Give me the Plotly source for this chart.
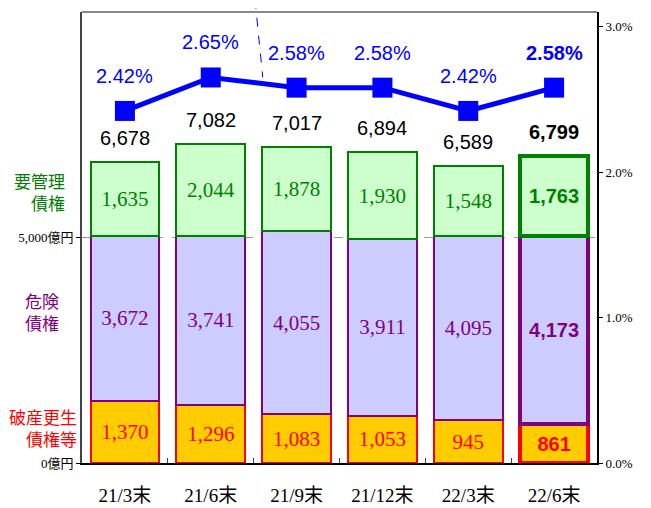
import plotly.graph_objects as go

# data
periods = ["21/3末", "21/6末", "21/9末", "21/12末", "22/3末", "22/6末"]
bankrupt = [1370, 1296, 1083, 1053, 945, 861]        # 破産更生債権等
doubtful = [3672, 3741, 4055, 3911, 4095, 4173]      # 危険債権
substandard = [1635, 2044, 1878, 1930, 1548, 1763]   # 要管理債権
totals = [6678, 7082, 7017, 6894, 6589, 6799]
ratio = [2.42, 2.65, 2.58, 2.58, 2.42, 2.58]

SERIF = "Liberation Serif, Noto Sans CJK JP"
SANS = "Liberation Sans, Arial, sans-serif"
CJK = "Noto Sans CJK JP"

last = len(periods) - 1


def fmt(v, i):
    s = f"{v:,}"
    return f"<b>{s}</b>" if i == last else s


def seg(values, fill, edge, name):
    return go.Bar(
        x=periods, y=values, name=name,
        marker=dict(color=fill,
                    line=dict(color=edge, width=[2] * last + [4])),
        text=[fmt(v, i) for i, v in enumerate(values)],
        textposition="inside", insidetextanchor="middle",
        constraintext="none", textangle=0,
        textfont=dict(color=edge, size=[21] * last + [20],
                      family=[SERIF] * last + [SANS]),
        width=0.8, hoverinfo="skip",
    )


fig = go.Figure()
fig.add_trace(seg(bankrupt, "#FFCC00", "#FF0000", "破産更生債権等"))
fig.add_trace(seg(doubtful, "#CCCCFF", "#800080", "危険債権"))
fig.add_trace(seg(substandard, "#CCFFCC", "#008000", "要管理債権"))

fig.add_trace(go.Scatter(
    x=periods, y=ratio, yaxis="y2", mode="lines+markers",
    line=dict(color="#0000FF", width=5),
    marker=dict(symbol="square", size=20, color="#0000FF"),
    hoverinfo="skip",
))

annotations = []
for i, p in enumerate(periods):
    annotations.append(dict(
        x=p, y=totals[i], xref="x", yref="y", yshift=24, yanchor="middle",
        text=fmt(totals[i], i), showarrow=False,
        font=dict(family=SANS, size=20, color="black"),
    ))
    pct = f"{ratio[i]:.2f}%"
    annotations.append(dict(
        x=p, y=ratio[i], xref="x", yref="y2", yshift=35, yanchor="middle",
        text=f"<b>{pct}</b>" if i == last else pct, showarrow=False,
        font=dict(family=SANS, size=20, color="#0000FF"),
    ))

# category labels on the left
for txt, xx, yy, anchor, col in [
    ("要管理<br>債権", -0.029, 0.603, "right", "#008000"),
    ("危険<br>債権", -0.078, 0.337, "center", "#800080"),
    ("破産更生<br>債権等", -0.006, 0.078, "right", "#FF0000"),
]:
    annotations.append(dict(
        x=xx, y=yy, xref="paper", yref="paper", xanchor=anchor, yanchor="middle",
        align="right", text=txt, showarrow=False,
        font=dict(family=CJK, size=17, color=col),
    ))

# page body adds an 8px margin, so the figure is 8px smaller than the window
fig.update_layout(
    width=643, height=500, autosize=False,
    margin=dict(l=74, r=54, t=4, b=45),
    barmode="stack", bargap=0.2, showlegend=False,
    plot_bgcolor="white", paper_bgcolor="white",
    annotations=annotations,
    xaxis=dict(
        type="category", showline=True, linecolor="black", linewidth=2,
        ticks="inside", tickson="boundaries", ticklen=5, tickcolor="#444",
        tickfont=dict(family=SERIF, size=19, color="black"),
        ticklabelstandoff=14, automargin=False,
    ),
    yaxis=dict(
        range=[0, 10000], tickvals=[0, 5000], ticktext=["0億円", "5,000億円"],
        showline=True, linecolor="#444", linewidth=2,
        ticks="outside", ticklen=4, tickcolor="black",
        showgrid=True, gridcolor="#999999", griddash="dash", gridwidth=1,
        zeroline=False, automargin=False,
        tickfont=dict(family=SERIF, size=13, color="black"),
    ),
    yaxis2=dict(
        overlaying="y", side="right", range=[0, 3.1],
        tickvals=[0, 1, 2, 3], ticktext=["0.0%", "1.0%", "2.0%", "3.0%"],
        showline=True, linecolor="black", linewidth=2,
        ticks="outside", ticklen=4, tickcolor="black",
        showgrid=False, zeroline=False, automargin=False,
        tickfont=dict(family=SERIF, size=13, color="black"),
    ),
    shapes=[
        dict(type="line", xref="paper", yref="paper", x0=0, x1=1, y0=1, y1=1,
             line=dict(color="#888888", width=2)),
        dict(type="line", xref="paper", yref="paper", x0=-0.16, x1=0.287,
             y0=1.025, y1=1.025, line=dict(color="#9999FF", width=1, dash="dash")),
        dict(type="line", xref="paper", yref="paper", x0=0.336, x1=0.351,
             y0=1.027, y1=0.855, line=dict(color="#0000FF", width=1, dash="dash")),
    ],
)

fig.write_html("out.html")
